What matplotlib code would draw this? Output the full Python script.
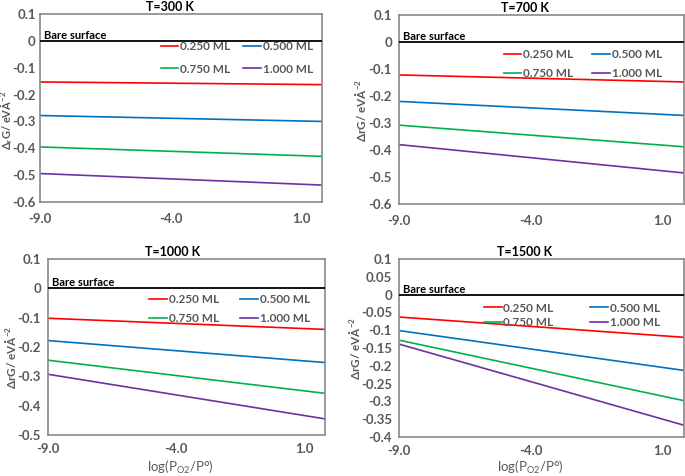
import matplotlib
matplotlib.use("Agg")
import matplotlib.pyplot as plt
from matplotlib.ticker import FuncFormatter, MultipleLocator

plt.rcParams['font.family'] = ['Lato', 'DejaVu Sans']

# ---- data ----
x_vals = [-9.0, 1.8]
labels = ["0.250 ML", "0.500 ML", "0.750 ML", "1.000 ML"]
colors = ["#FF0000", "#0070C0", "#00B050", "#7030A0"]

titles = ["T=300 K", "T=700 K", "T=1000 K", "T=1500 K"]

g300 = [[-0.153, -0.163], [-0.278, -0.300], [-0.395, -0.430], [-0.494, -0.537]]
g700 = [[-0.122, -0.148], [-0.220, -0.272], [-0.308, -0.388], [-0.380, -0.485]]
g1000 = [[-0.102, -0.140], [-0.178, -0.253], [-0.245, -0.358], [-0.293, -0.445]]
g1500 = [[-0.063, -0.120], [-0.101, -0.213], [-0.128, -0.298], [-0.139, -0.367]]
bare = [0.0, 0.0]

xticks = [-9.0, -4.0, 1.0]

W, H = 685, 476
fig = plt.figure(figsize=(W / 100, H / 100), dpi=100)

def px_axes(l, r, t, b):
    return fig.add_axes([l / W, (H - b) / H, (r - l) / W, (b - t) / H])

def ftext(x, y, s, **kw):
    return fig.text(x / W, 1 - y / H, s, **kw)

ylab1 = r"Δ$_\mathregular{r}$G/ eVÅ$^\mathregular{-2}$"
ylab2 = r"ΔrG/ eVÅ$^\mathregular{-2}$"

specs = [
    # rect, data, ylim, ystep, title pos, ylabel, ylabel pos, ylabel size, xlabel pos, legend anchor, labelspacing, columnspacing, xpad, ypad
    ((40, 322, 14, 202), g300, (-0.6, 0.1), 0.1, (170, 11), ylab1, (7, 120), 8, None, (0.968, 0.856), 0.97, 1.1, 8, 3),
    ((399, 684, 15, 204), g700, (-0.6, 0.1), 0.1, (525, 11.5), ylab2, (361, 110), 8.5, None, (0.923, 0.82), 0.71, 1.6, 8, 5),
    ((48, 325, 259, 435), g1000, (-0.5, 0.1), 0.1, (173, 256), ylab2, (11, 357), 8.5, (180, 467), (0.946, 0.80), 0.63, 1.8, 6, 5),
    ((399, 684, 259, 437), g1500, (-0.4, 0.1), 0.05, (525, 256), ylab2, (354, 348), 8.5, (530, 467), (0.916, 0.755), 0.29, 3.1, 6, 5),
]

tick_color = "#595959"
spine_color = "#898989"

for (rect, data, ylim, ystep, tpos, ylab, ypos, ysize, xpos, lanchor, lsp, csp, xpad, ypad), title in zip(specs, titles):
    ax = px_axes(*rect)
    ax.plot(x_vals, bare, color="black", lw=1.3, zorder=3)
    lines = []
    for vals, lab, c in zip(data, labels, colors):
        ln, = ax.plot(x_vals, vals, color=c, lw=1.2, label=lab)
        lines.append(ln)
    ax.set_xlim(x_vals[0], x_vals[1])
    ax.set_ylim(*ylim)
    ax.yaxis.set_major_locator(MultipleLocator(ystep))
    ax.yaxis.set_major_formatter(FuncFormatter(lambda v, p: "%g" % round(v, 3)))
    ax.set_xticks(xticks)
    ax.xaxis.set_major_formatter(FuncFormatter(lambda v, p: "%.1f" % v))
    ax.tick_params(length=0, colors=tick_color, labelsize=9.5)
    ax.tick_params(axis="y", pad=ypad)
    ax.tick_params(axis="x", pad=xpad)
    for lbl in ax.get_xticklabels() + ax.get_yticklabels():
        lbl.set_fontweight("bold")
    for s in ax.spines.values():
        s.set_color(spine_color)
        s.set_linewidth(1.2)
    ftext(tpos[0], tpos[1], title, ha="center", va="baseline",
          fontsize=9, fontweight="bold", color="black")
    ax.text(0.015, 0.0, "Bare surface", transform=ax.get_yaxis_transform(),
            ha="left", va="bottom", fontsize=8, fontweight="bold", color="black")
    ftext(ypos[0], ypos[1], ylab, rotation=90, ha="center", va="center",
          fontsize=ysize, fontweight="bold", color=tick_color)
    if xpos is not None:
        ftext(xpos[0], xpos[1], r"log(P$_\mathregular{O2}$/P°)", ha="center", va="center",
              fontsize=9.5, color=tick_color)
    order = [0, 2, 1, 3]
    leg = ax.legend([lines[i] for i in order], [labels[i] for i in order],
                    ncol=2, loc="upper right", bbox_to_anchor=lanchor, frameon=False,
                    fontsize=8.5, handlelength=1.5, handletextpad=0.15,
                    columnspacing=csp, labelspacing=lsp, borderaxespad=0, borderpad=0)
    for t in leg.get_texts():
        t.set_color(tick_color)
        t.set_fontweight("bold")

fig.savefig("out.png", dpi=100)
